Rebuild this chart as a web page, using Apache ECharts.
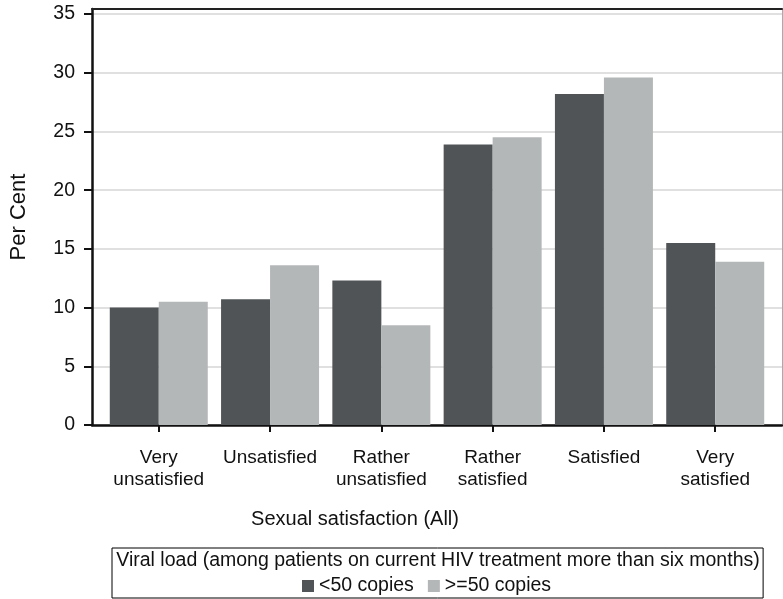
<!DOCTYPE html>
<html>
<head>
    <meta charset="utf-8">
    <title>Sexual satisfaction by viral load</title>
    <script src="https://cdn.jsdelivr.net/npm/echarts@6/dist/echarts.min.js"></script>
    <style>
        html, body { margin: 0; padding: 0; background: #fff; }
    </style>
</head>
<body>
<div id="chart1" style="width:783px;height:599px;"></div>

<script type="text/javascript">
    // categories and values
    const categories = ['Very\nunsatisfied', 'Unsatisfied', 'Rather\nunsatisfied', 'Rather\nsatisfied', 'Satisfied', 'Very\nsatisfied'];
    const below50 = [10.0, 10.7, 12.3, 23.9, 28.2, 15.5];
    const above50 = [10.5, 13.6, 8.5, 24.5, 29.6, 13.9];
    const yTicks = [0, 5, 10, 15, 20, 25, 30, 35];
    const catPos = [0, 1, 2, 3, 4, 5];

    const FONT = "'Liberation Sans', Arial, Helvetica, sans-serif";

    let myChart1 = echarts.init(document.getElementById('chart1'));

    myChart1.setOption({
        animation: false,
        backgroundColor: '#fff',
        grid: { left: 92, right: 1, top: 9, bottom: 174 },
        legend: {
            data: ['<50 copies', '>=50 copies'],
            left: 112,
            top: 548,
            padding: [28, 212, 2, 190],
            borderColor: '#000',
            borderWidth: 1,
            icon: 'rect',
            itemWidth: 12,
            itemHeight: 12,
            itemGap: 14,
            textStyle: { fontFamily: FONT, fontSize: 19.5, color: '#111' }
        },
        graphic: [
            {
                type: 'text', x: 355, y: 519,
                style: {
                    text: 'Sexual satisfaction (All)', align: 'center', verticalAlign: 'middle',
                    fontFamily: FONT, fontSize: 20, fill: '#111'
                }
            },
            {
                type: 'text', x: 438, y: 561,
                style: {
                    text: 'Viral load (among patients on current HIV treatment more than six months)',
                    align: 'center', verticalAlign: 'middle',
                    fontFamily: FONT, fontSize: 19.5, fill: '#111'
                }
            }
        ],
        xAxis: [{
            type: 'value',
            min: -0.6,
            max: 5.6,
            axisLine: { onZero: false, lineStyle: { color: '#111', width: 2.5 } },
            axisTick: { customValues: catPos, length: 7, lineStyle: { color: '#111', width: 2 } },
            axisLabel: {
                customValues: catPos,
                formatter: function (v) { return categories[Math.round(v)]; },
                margin: 22,
                fontFamily: FONT, fontSize: 19, lineHeight: 22, color: '#111'
            },
            splitLine: { show: false }
        }, {
            type: 'value',
            position: 'top',
            min: -0.6,
            max: 5.6,
            axisLine: { show: true, onZero: false, lineStyle: { color: '#222', width: 2 } },
            axisTick: { show: false },
            axisLabel: { show: false },
            splitLine: { show: false }
        }],
        yAxis: [{
            type: 'value',
            min: 0,
            max: 35.43,
            name: 'Per Cent',
            nameLocation: 'middle',
            nameGap: 62,
            nameTextStyle: { fontFamily: FONT, fontSize: 22, color: '#111' },
            axisLine: { show: true, onZero: false, lineStyle: { color: '#111', width: 2.5 } },
            axisTick: { show: true, customValues: yTicks, length: 8, lineStyle: { color: '#111', width: 2 } },
            axisLabel: {
                customValues: yTicks,
                margin: 17,
                fontFamily: FONT, fontSize: 19.5, color: '#111'
            },
            splitLine: { show: true, lineStyle: { color: '#e0e0e0', width: 2 } }
        }, {
            type: 'value',
            position: 'right',
            min: 0,
            max: 35.43,
            axisLine: { show: true, onZero: false, lineStyle: { color: '#aaa', width: 1 } },
            axisTick: { show: false },
            axisLabel: { show: false },
            splitLine: { show: false }
        }],
        series: [{
            name: '<50 copies',
            type: 'bar',
            barWidth: 49,
            barGap: '0%',
            itemStyle: { color: '#505456' },
            data: below50.map(function (v, i) { return [catPos[i], v]; })
        }, {
            name: '>=50 copies',
            type: 'bar',
            barWidth: 49,
            barGap: '0%',
            itemStyle: { color: '#b4b7b8' },
            data: above50.map(function (v, i) { return [catPos[i], v]; })
        }]
    });
</script>
</body>
</html>
